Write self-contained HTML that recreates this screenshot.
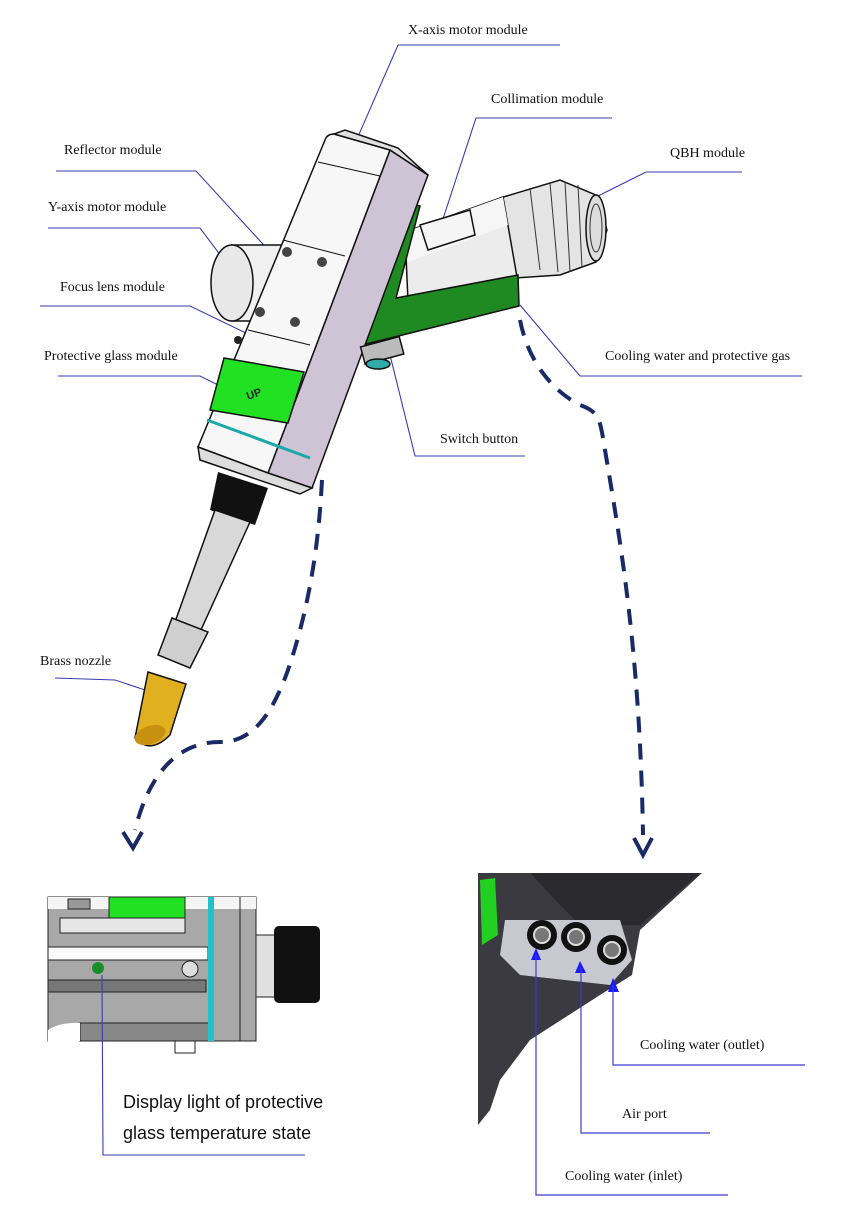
<!DOCTYPE html>
<html><head><meta charset="utf-8"><style>
html,body{margin:0;padding:0;background:#fff}
svg{display:block}
.t{font-family:"Liberation Serif",serif;font-size:14px;fill:#111}
.l{stroke:#3b3bb0;stroke-width:1.1;fill:none}
.d{stroke:#1a2a66;stroke-width:4;fill:none;stroke-dasharray:16 11}
.o{stroke:#111;stroke-width:1.5}
</style></head><body>
<svg width="862" height="1224" viewBox="0 0 862 1224" xmlns="http://www.w3.org/2000/svg">
<!-- labels -->
<text class="t" x="408" y="34">X-axis motor module</text>
<path class="l" d="M350,155 L398,45 L560,45"/>
<text class="t" x="491" y="103">Collimation module</text>
<path class="l" d="M440,228 L476,118 L612,118"/>
<text class="t" x="670" y="157">QBH module</text>
<path class="l" d="M590,200 L646,172 L742,172"/>
<text class="t" x="64" y="154">Reflector module</text>
<path class="l" d="M283,266 L196,171 L56,171"/>
<text class="t" x="48" y="211">Y-axis motor module</text>
<path class="l" d="M230,268 L200,228 L48,228"/>
<text class="t" x="60" y="291">Focus lens module</text>
<path class="l" d="M250,335 L190,306 L40,306"/>
<text class="t" x="44" y="360">Protective glass module</text>
<path class="l" d="M238,395 L200,376 L58,376"/>
<text class="t" x="605" y="360">Cooling water and protective gas</text>
<path class="l" d="M520,305 L580,376 L802,376"/>
<text class="t" x="440" y="443">Switch button</text>
<path class="l" d="M390,355 L415,456 L525,456"/>
<text class="t" x="40" y="665">Brass nozzle</text>
<path class="l" d="M145,690 L115,680 L55,678"/>

<!-- Y motor cylinder -->
<rect x="232" y="245" width="50" height="76" fill="#f0f0f0" class="o"/>
<ellipse cx="232" cy="283" rx="21" ry="38" fill="#e8e8e8" class="o"/>
<!-- QBH / collimation -->
<path d="M500,198 L560,180 L596,195 L607,230 L596,262 L560,275 L515,278 Z" fill="#e4e4e4" class="o"/>
<ellipse cx="596" cy="228" rx="10" ry="33" fill="#ddd" class="o"/>
<ellipse cx="596" cy="228" rx="6" ry="24" fill="none" stroke="#333"/>
<path d="M530,188 L540,270 M550,183 L558,272 M565,182 L570,272 M578,185 L582,268" stroke="#333" fill="none"/>
<path d="M405,232 L503,197 L517,277 L408,302 Z" fill="#ececec" class="o"/>
<path d="M405,232 L503,197 L508,225 L408,262 Z" fill="#f6f6f6"/>
<path d="M420,225 L470,210 L475,235 L428,250 Z" fill="#f5f5f5" class="o"/>
<!-- green arm -->
<path d="M398,200 L420,206 L396,298 L518,275 L519,306 L350,348 L342,335 Z" fill="#1f8a22" class="o"/>
<!-- body side face -->
<path d="M390,150 L428,175 L312,488 L268,473 Z" fill="#cfc3d6" class="o"/>
<!-- body front face -->
<path d="M334,134 L390,150 L268,473 L198,447 L325,140 Q327,134 334,134 Z" fill="#f7f7f7" class="o"/>
<path d="M334,134 L390,150 L428,175 L420,168 L398,148 L345,130 Z" fill="#e0e0e0" class="o"/>
<path d="M318,162 L380,176 M283,240 L345,256 M248,330 L310,345" stroke="#111" fill="none"/>
<circle cx="287" cy="252" r="5" fill="#444"/><circle cx="322" cy="262" r="5" fill="#444"/>
<circle cx="260" cy="312" r="5" fill="#444"/><circle cx="295" cy="322" r="5" fill="#444"/>
<circle cx="238" cy="340" r="4" fill="#222"/>
<!-- green glass panel -->
<path d="M224,358 L304,372 L288,423 L210,410 Z" fill="#22e022" class="o"/>
<text x="248" y="400" font-family="Liberation Sans,sans-serif" font-size="11" font-weight="bold" fill="#222" transform="rotate(-20 248 400)">UP</text>
<path d="M207,420 L310,458" stroke="#1aa8a8" stroke-width="3"/>
<path d="M198,447 L268,473 L312,488 L300,494 L200,460 Z" fill="#ddd" class="o"/>
<rect x="362" y="342" width="40" height="18" fill="#bbb" class="o" transform="rotate(-15 380 350)"/>
<ellipse cx="378" cy="364" rx="12" ry="5" fill="#3aa" class="o"/>
<!-- nozzle -->
<path d="M218,472 L268,488 L255,525 L210,510 Z" fill="#111"/>
<path d="M215,510 L250,522 L200,632 L175,622 Z" fill="#d8d8d8" class="o"/>
<path d="M172,618 L208,632 L190,668 L158,655 Z" fill="#cfcfcf" class="o"/>
<path d="M148,672 L186,684 L170,735 Q150,755 135,738 Z" fill="#e0b020" class="o"/>
<ellipse cx="150" cy="735" rx="16" ry="9" fill="#c89010" transform="rotate(-20 150 735)"/>

<!-- dashed curves -->
<path class="d" d="M322,480 C318,560 305,620 288,670 C270,720 250,742 220,742 C180,742 150,770 135,830"/>
<path d="M123,832 L133,848 L142,832" stroke="#1a2a66" stroke-width="4" fill="none"/>
<path class="d" d="M520,320 C530,370 560,395 580,405 C600,412 600,420 605,450 C620,540 640,650 643,835"/>
<path d="M634,838 L643,855 L652,838" stroke="#1a2a66" stroke-width="4" fill="none"/>

<!-- left inset -->
<rect x="48" y="897" width="208" height="144" fill="#a8a8a8" stroke="#222"/>
<rect x="48" y="897" width="208" height="12" fill="#f5f5f5"/>
<rect x="68" y="899" width="22" height="10" fill="#999" stroke="#222"/>
<rect x="109" y="897" width="76" height="21" fill="#22e022" stroke="#222"/>
<rect x="60" y="918" width="125" height="15" fill="#e6e6e6" stroke="#222"/>
<rect x="48" y="947" width="160" height="13" fill="#fafafa" stroke="#222"/>
<rect x="48" y="980" width="158" height="12" fill="#777" stroke="#222"/>
<rect x="80" y="1023" width="130" height="18" fill="#888" stroke="#222"/>
<path d="M48,1030 Q60,1022 80,1023 L80,1041 L48,1050 Z" fill="#fff"/>
<rect x="208" y="897" width="6" height="144" fill="#22c0c8"/>
<line x1="240" y1="897" x2="240" y2="1041" stroke="#222"/>
<circle cx="190" cy="969" r="8" fill="#ddd" stroke="#222"/>
<circle cx="98" cy="968" r="6" fill="#1b8c2a"/>
<rect x="256" y="935" width="20" height="62" fill="#e0e0e0" stroke="#222"/>
<rect x="274" y="926" width="46" height="77" rx="5" fill="#111"/>
<rect x="175" y="1041" width="20" height="12" fill="#fff" stroke="#222"/>
<path class="l" d="M102,975 L103,1155 L305,1155" stroke="#3b3bd0"/>
<text x="123" y="1108" font-family="Liberation Sans,sans-serif" font-size="18" fill="#111">Display light of protective</text>
<text x="123" y="1139" font-family="Liberation Sans,sans-serif" font-size="18" fill="#111">glass temperature state</text>

<!-- right inset -->
<path d="M478,873 L702,873 L640,930 L632,975 L600,995 L530,1040 L500,1080 L490,1110 L478,1125 Z" fill="#3a3a40"/>
<path d="M530,873 L700,873 L640,925 L580,925 L560,905 Z" fill="#2a2a2e"/>
<path d="M480,880 L495,878 L498,935 L482,945 Z" fill="#22d022"/>
<path d="M505,920 L620,920 L632,960 L610,985 L520,975 L500,955 Z" fill="#c8c8d0"/>
<circle cx="542" cy="935" r="15" fill="#111"/><circle cx="542" cy="935" r="8" fill="#777" stroke="#ddd" stroke-width="2"/>
<circle cx="576" cy="937" r="15" fill="#111"/><circle cx="576" cy="937" r="8" fill="#777" stroke="#ddd" stroke-width="2"/>
<circle cx="612" cy="950" r="15" fill="#111"/><circle cx="612" cy="950" r="8" fill="#777" stroke="#ddd" stroke-width="2"/>
<path d="M536,948 L531,960 L541,960 Z M580,961 L575,973 L586,973 Z M613,978 L608,992 L619,992 Z" fill="#1a1aff"/>
<path d="M536,955 L536,1195 L728,1195 M581,968 L581,1133 L710,1133 M613,985 L613,1065 L805,1065" stroke="#3b3bd0" stroke-width="1.2" fill="none"/>
<text class="t" x="640" y="1049">Cooling water (outlet)</text>
<text class="t" x="622" y="1118">Air port</text>
<text class="t" x="565" y="1180">Cooling water (inlet)</text>
</svg>
</body></html>
